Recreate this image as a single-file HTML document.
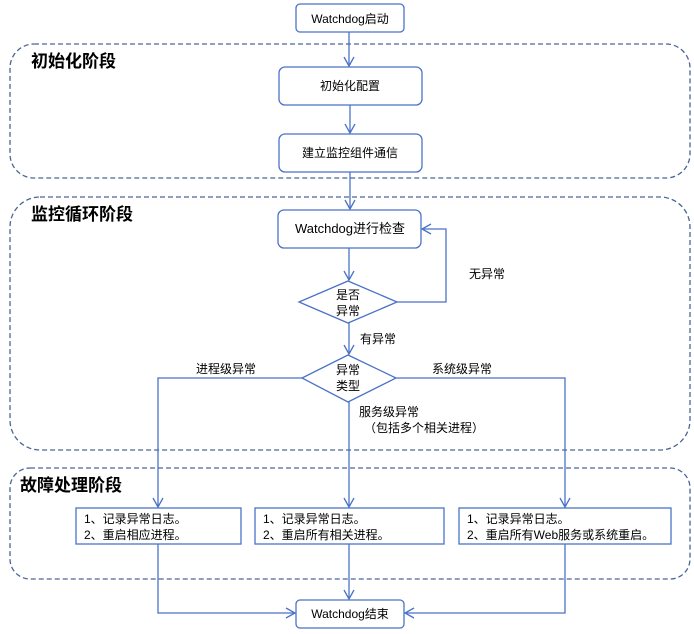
<!DOCTYPE html>
<html><head><meta charset="utf-8"><style>
html,body{margin:0;padding:0;background:#fff;}
svg{display:block;font-family:"Liberation Sans","Noto Sans CJK SC",sans-serif;}
</style></head><body>
<svg width="694" height="634" viewBox="0 0 694 634" xmlns="http://www.w3.org/2000/svg">
<defs>
<marker id="a" markerWidth="12" markerHeight="12" refX="10" refY="6" orient="auto" markerUnits="userSpaceOnUse">
<path d="M1,1 L10,6 L1,11" fill="none" stroke="#4a72c8" stroke-width="1.3"/>
</marker>
</defs>
<g fill="none" stroke="#4a6496" stroke-width="1.3" stroke-dasharray="5,3">
<rect x="10" y="44" width="680" height="134" rx="24"/>
<rect x="10" y="197" width="680" height="253" rx="30"/>
<rect x="10" y="468" width="680" height="111" rx="20"/>
</g>
<g font-weight="bold" font-size="17" fill="#000">
<text x="31" y="67">初始化阶段</text>
<text x="31" y="220">监控循环阶段</text>
<text x="20" y="491">故障处理阶段</text>
</g>
<g fill="#fff" stroke="#4a72c8" stroke-width="1.3">
<rect x="296" y="4" width="108" height="28" rx="4"/>
<rect x="279" y="67" width="143" height="38" rx="6"/>
<rect x="279" y="134" width="143" height="38" rx="6"/>
<rect x="278" y="210" width="143" height="38" rx="6"/>
<polygon points="348,281 397,302 348,323 299,302"/>
<polygon points="348,355 396,378 348,402 302,378"/>
<rect x="76" y="508" width="165" height="36"/>
<rect x="255" y="508" width="189" height="36"/>
<rect x="459" y="508" width="212" height="36"/>
<rect x="296" y="600" width="108" height="28" rx="4"/>
</g>
<g fill="none" stroke="#4a72c8" stroke-width="1.3">
<line x1="349" y1="32" x2="349" y2="66" marker-end="url(#a)"/>
<line x1="350" y1="105" x2="350" y2="133" marker-end="url(#a)"/>
<line x1="350" y1="172" x2="350" y2="209" marker-end="url(#a)"/>
<line x1="349" y1="248" x2="349" y2="280" marker-end="url(#a)"/>
<polyline points="397,302 446,302 446,229 422,229" marker-end="url(#a)"/>
<line x1="349" y1="323" x2="349" y2="354" marker-end="url(#a)"/>
<polyline points="302,378 158,378 158,507" marker-end="url(#a)"/>
<polyline points="396,378 565,378 565,507" marker-end="url(#a)"/>
<line x1="349" y1="402" x2="349" y2="507" marker-end="url(#a)"/>
<polyline points="158,544 158,613 295,613" marker-end="url(#a)"/>
<polyline points="565,544 565,613 405,613" marker-end="url(#a)"/>
<line x1="349" y1="544" x2="349" y2="599" marker-end="url(#a)"/>
</g>
<g font-size="12" fill="#000" text-anchor="middle">
<text x="350" y="23">Watchdog启动</text>
<text x="350" y="90">初始化配置</text>
<text x="350" y="157">建立监控组件通信</text>
<text x="350" y="233" font-size="13">Watchdog进行检查</text>
<text x="348" y="299">是否</text>
<text x="348" y="315">异常</text>
<text x="348" y="374">异常</text>
<text x="348" y="390">类型</text>
<text x="350" y="618">Watchdog结束</text>
</g>
<g font-size="12" fill="#000">
<text x="469" y="278">无异常</text>
<text x="360" y="343">有异常</text>
<text x="196" y="373">进程级异常</text>
<text x="432" y="373">系统级异常</text>
<text x="359" y="416">服务级异常</text>
<text x="364" y="432">（包括多个相关进程）</text>
<text x="84" y="523">1、记录异常日志。</text>
<text x="84" y="539">2、重启相应进程。</text>
<text x="263" y="523">1、记录异常日志。</text>
<text x="263" y="539">2、重启所有相关进程。</text>
<text x="467" y="523">1、记录异常日志。</text>
<text x="467" y="539">2、重启所有Web服务或系统重启。</text>
</g>
</svg>
</body></html>
